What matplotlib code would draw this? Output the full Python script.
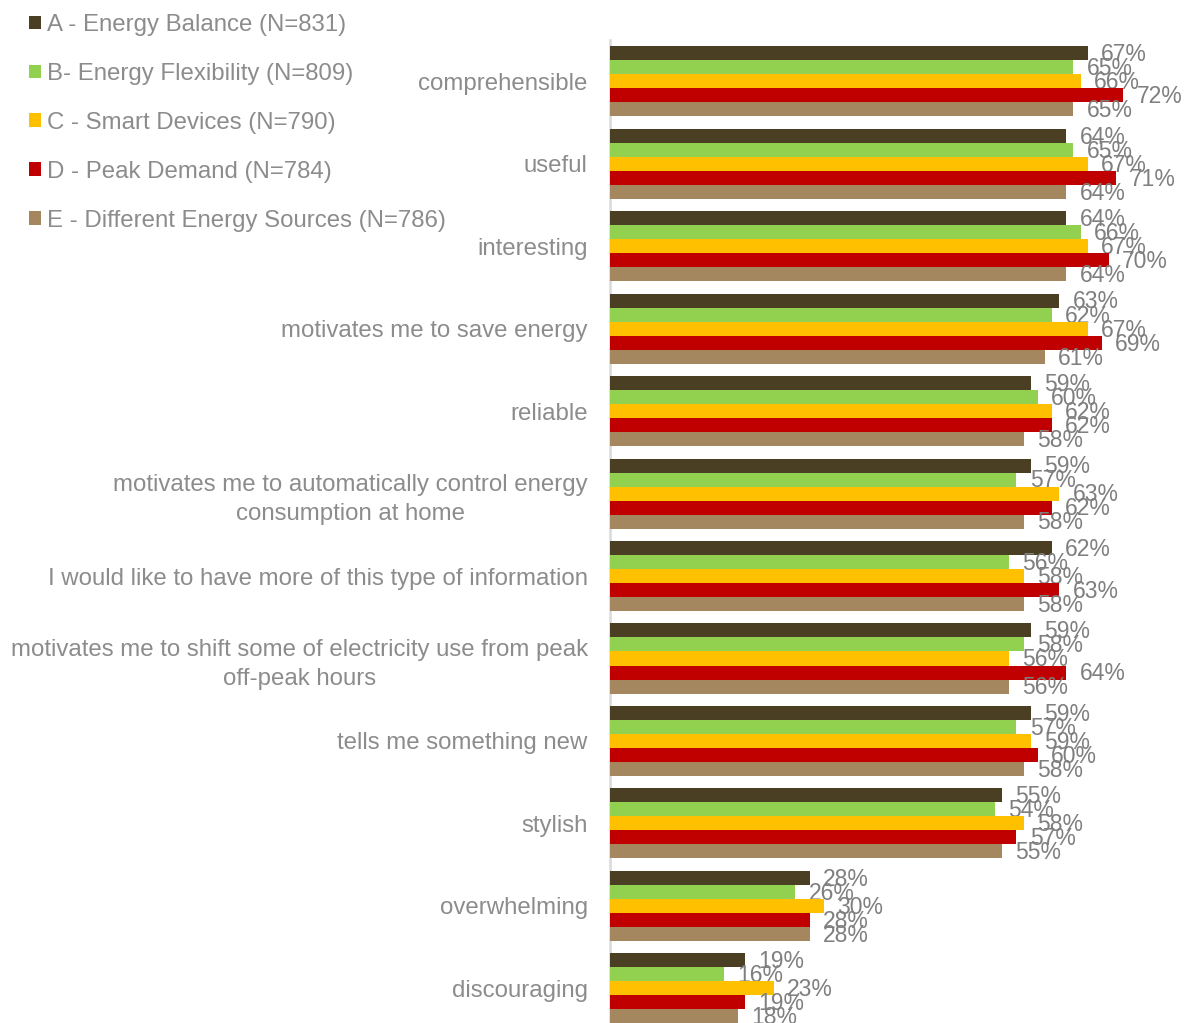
"""Perceived qualities of five energy-feedback designs, grouped horizontal bars."""
import numpy as np
import matplotlib
matplotlib.use("Agg")
import matplotlib.pyplot as plt

plt.rcParams["font.family"] = ["Liberation Sans", "DejaVu Sans"]

# ── Data ──────────────────────────────────────────────────────────────────────
categories = [
    "comprehensible",
    "useful",
    "interesting",
    "motivates me to save energy",
    "reliable",
    "motivates me to automatically control energy\nconsumption at home",
    "I would like to have more of this type of information",
    "motivates me to shift some of electricity use from peak\noff-peak hours",
    "tells me something new",
    "stylish",
    "overwhelming",
    "discouraging",
]
series_names = [
    "A - Energy Balance (N=831)",
    "B- Energy Flexibility (N=809)",
    "C - Smart Devices (N=790)",
    "D - Peak Demand (N=784)",
    "E - Different Energy Sources (N=786)",
]
vals_a = [67, 64, 64, 63, 59, 59, 62, 59, 59, 55, 28, 19]
vals_b = [65, 65, 66, 62, 60, 57, 56, 58, 57, 54, 26, 16]
vals_c = [66, 67, 67, 67, 62, 63, 58, 56, 59, 58, 30, 23]
vals_d = [72, 71, 70, 69, 62, 62, 63, 64, 60, 57, 28, 19]
vals_e = [65, 64, 64, 61, 58, 58, 58, 56, 58, 55, 28, 18]

# ── Style ─────────────────────────────────────────────────────────────────────
COLORS = ["#4B3F23", "#92D050", "#FFC000", "#C00000", "#A5875F"]
LABEL_C = "#8C8C8C"
VALUE_C = "#7F7F7F"
AXIS_C = "#D9D9D9"
BAR_H = 0.17
FS = 17.3

W, H = 1184, 1023
fig = plt.figure(figsize=(W / 100, H / 100), dpi=100, facecolor="white")
ax = fig.add_axes([610 / W, 0, 1 - 610 / W, 1 - 40 / H])

y = np.arange(len(categories))
all_vals = [vals_a, vals_b, vals_c, vals_d, vals_e]
for j, (vals, color, name) in enumerate(zip(all_vals, COLORS, series_names)):
    ypos = y + (j - 2) * BAR_H
    ax.barh(ypos, vals, height=BAR_H, color=color, label=name,
            linewidth=0, zorder=3)
    for yy, v in zip(ypos, vals):
        ax.annotate(f"{v}%", (v, yy), xytext=(9.5, -1),
                    textcoords="offset points", ha="left", va="center",
                    fontsize=16.5, color=VALUE_C, annotation_clip=False)

ax.set_xlim(0, 80.5)
ax.set_ylim(len(categories) - 0.58, -0.5)
ax.set_xticks([])
ax.set_yticks(y)
ax.set_yticklabels(categories, fontsize=FS, color=LABEL_C)
for lbl in ax.get_yticklabels():
    lbl.set_multialignment("center")
    lbl.set_linespacing(1.4)
ax.tick_params(axis="y", length=0, pad=16)

for side in ["top", "right", "bottom"]:
    ax.spines[side].set_visible(False)
ax.spines["left"].set_color(AXIS_C)
ax.spines["left"].set_linewidth(1.8)

leg = fig.legend(loc="upper left", bbox_to_anchor=(29 / W, 1 - 14 / H),
                 frameon=False, fontsize=FS, borderpad=0, borderaxespad=0,
                 handlelength=0.5, handleheight=0.5, handletextpad=0.25,
                 labelspacing=1.12)
for t in leg.get_texts():
    t.set_color(LABEL_C)

fig.savefig("out.png", dpi=100, facecolor="white")
